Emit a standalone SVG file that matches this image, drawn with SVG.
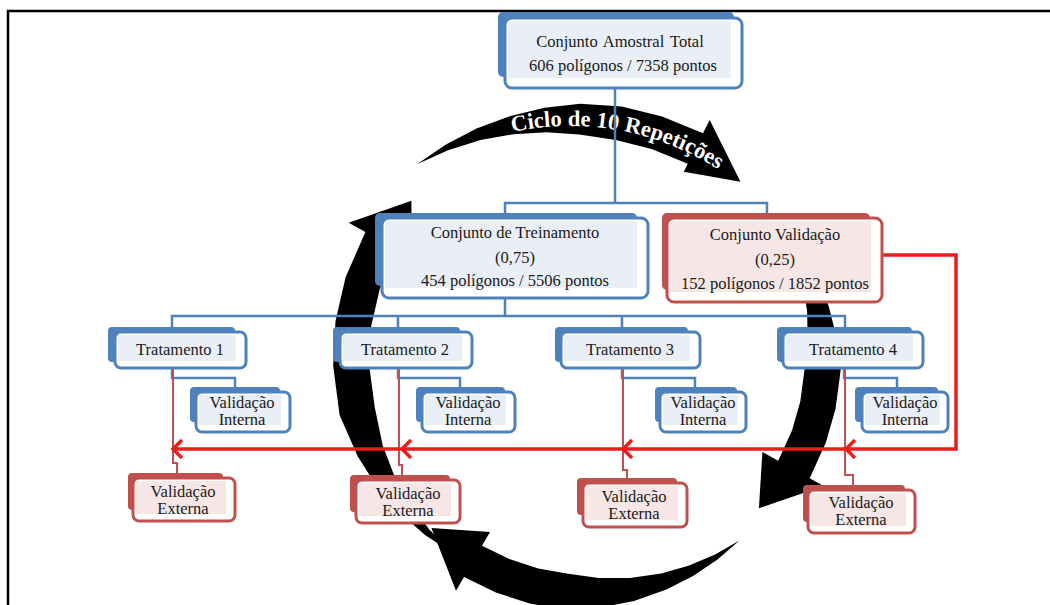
<svg xmlns="http://www.w3.org/2000/svg" width="1050" height="605" viewBox="0 0 1050 605">
<defs>
<style>
.bb{fill:#4f81bd}
.bf{fill:#fff;stroke:#4f81bd;stroke-width:3}
.bi{fill:#e9eef7}
.rb{fill:#c0504d}
.rf{fill:#fff;stroke:#c0504d;stroke-width:3}
.ri{fill:#f6e6e6}
text{font-family:"Liberation Serif","Times New Roman",serif;fill:#1a1a1a;font-size:16.5px;text-anchor:middle}
.cyc{fill:#000}
.cl{fill:none;stroke:#4f81bd;stroke-width:2.5}
.rl{fill:none;stroke:#c0504d;stroke-width:2}
.big{fill:none;stroke:#ee1c1c;stroke-width:3.5}
</style>
<path id="cp" d="M 503.7 134.1 A 274 274 0 0 1 731.1 178.3"/>
</defs>
<rect width="1050" height="605" fill="#fff"/>
<path d="M8 605 V11 H1050" fill="none" stroke="#000" stroke-width="2.5"/>

<g id="cycle">
<path class="cyc" d="M 417,164.3 L 445.5,144.7 L 476.5,128.5 L 509.7,116.2 L 544.4,107.8 L 580.3,103.8 L 621.7,106.5 L 662.1,116.6 L 703.0,133.3 L 709.7,119.9 L 740.5,181.7 L 683.8,171.8 L 687.8,163.7 L 651.6,148.9 L 615.8,140.0 L 579.3,134.6 L 546.6,132.3 L 513.5,134.2 L 480.5,140.1 L 448.1,150.2 Z"/>
<path class="cyc" d="M 778.7,220.6 L 799.1,246.3 L 816.0,275.1 L 828.8,306.5 L 837.2,339.8 L 840.7,370.1 L 835.5,409.0 L 825.9,442.5 L 809.7,478.2 L 823.6,486.0 L 758.9,508.2 L 762.4,452.0 L 778.2,460.7 L 792.1,430.2 L 800.3,401.5 L 804.7,368.2 L 807.7,341.8 L 807.1,311.1 L 802.1,280.2 L 792.6,249.8 Z"/>
<path class="cyc" d="M 739.5,540.4 L 717.5,559.5 L 693.1,576.0 L 666.5,589.5 L 634.0,600.9 L 599.8,607.7 L 564.5,609.6 L 529.6,603.5 L 495.9,592.5 L 464.0,577.0 L 456,590.8 L 431.4,528.1 L 490,531.9 L 482.0,545.8 L 509.3,559.1 L 538.3,568.5 L 568.2,573.8 L 598.7,578.0 L 629.9,577.9 L 661.3,573.5 L 688.4,565.8 L 714.6,554.8 Z"/>
<path class="cyc" d="M 453.3,553.6 L 425.0,535.1 L 399.2,512.3 L 376.4,485.9 L 357.5,456.1 L 339.6,415.1 L 333.2,366.0 L 335.5,321.1 L 345.6,277.3 L 365.4,231.9 L 348.7,222.7 L 411.4,200.8 L 411.7,257.6 L 396.8,249.4 L 379.9,288.4 L 371.2,326.1 L 369.1,364.7 L 374.7,407.0 L 382.7,445.4 L 394.1,475.3 L 409.8,503.7 L 429.7,530.0 Z"/>
<text style="fill:#fff;font-weight:bold;font-size:22.5px;text-anchor:start"><textPath href="#cp" startOffset="9">Ciclo de 10 Repetições</textPath></text>
</g>

<g id="connectors">
<path class="cl" d="M615 88 V203 M505 213 V203 H767 V213 M505 298 V316 M172 327 V316 H845 V327 M398 316 V327 M622 316 V327 M172 368 V378 H235 V387 M398 368 V378 H460 V387 M622 368 V378 H695 V387 M844 368 V378 H897 V387"/>
<path class="rl" d="M173 368 V463 H177 V473 M399 368 V465 H402 V475 M623 368 V470 H627 V478 M845 368 V475 H853 V485"/>
<path class="big" d="M882 255 H956 V449 H173 M182 440 L173 449 L182 458 M411 440 L402 449 L411 458 M632 440 L623 449 L632 458 M855 440 L846 449 L855 458"/>
</g>

<g id="amostral">
<rect class="bb" x="498" y="12" width="236" height="65" rx="5"/>
<rect class="bf" x="505" y="18" width="237" height="70" rx="7"/>
<rect class="bi" x="508" y="21" width="223" height="57"/>
<text x="620" y="47" font-size="17.5" word-spacing="2">Conjunto Amostral Total</text>
<text x="623" y="71" font-size="17">606 polígonos / 7358 pontos</text>
</g>
<g id="treinamento">
<rect class="bb" x="375" y="213" width="262" height="73" rx="5"/>
<rect class="bf" x="382" y="218" width="266" height="80" rx="7"/>
<rect class="bi" x="385" y="221" width="252" height="67"/>
<text x="515" y="238">Conjunto de Treinamento</text>
<text x="515" y="263">(0,75)</text>
<text x="515" y="286">454 polígonos / 5506 pontos</text>
</g>
<g id="validacao">
<rect class="rb" x="662" y="213" width="208" height="77" rx="5"/>
<rect class="rf" x="667" y="218" width="215" height="84" rx="7"/>
<rect class="ri" x="670" y="221" width="201" height="71"/>
<text x="775" y="240">Conjunto Validação</text>
<text x="775" y="265">(0,25)</text>
<text x="775" y="289">152 polígonos / 1852 pontos</text>
</g>

<g id="t1"><rect class="bb" x="108" y="327" width="127" height="35" rx="4"/><rect class="bf" x="115" y="332" width="131" height="36" rx="6"/><rect class="bi" x="118" y="335" width="118" height="26"/><text x="180" y="355">Tratamento 1</text></g>
<g id="t2"><rect class="bb" x="333" y="327" width="127" height="35" rx="4"/><rect class="bf" x="340" y="332" width="132" height="36" rx="6"/><rect class="bi" x="343" y="335" width="119" height="26"/><text x="405" y="355">Tratamento 2</text></g>
<g id="t3"><rect class="bb" x="555" y="327" width="133" height="35" rx="4"/><rect class="bf" x="561" y="332" width="139" height="36" rx="6"/><rect class="bi" x="564" y="335" width="126" height="26"/><text x="630" y="355">Tratamento 3</text></g>
<g id="t4"><rect class="bb" x="777" y="327" width="135" height="35" rx="4"/><rect class="bf" x="783" y="332" width="140" height="36" rx="6"/><rect class="bi" x="786" y="335" width="127" height="26"/><text x="853" y="355">Tratamento 4</text></g>

<g id="vi1"><rect class="bb" x="190" y="387" width="90" height="35" rx="4"/><rect class="bf" x="196" y="392" width="94" height="40" rx="6"/><rect class="bi" x="199" y="395" width="82" height="30"/><text x="242" y="408">Validação</text><text x="242" y="425">Interna</text></g>
<g id="vi2"><rect class="bb" x="416" y="387" width="89" height="35" rx="4"/><rect class="bf" x="422" y="392" width="93" height="40" rx="6"/><rect class="bi" x="425" y="395" width="81" height="30"/><text x="468" y="408">Validação</text><text x="468" y="425">Interna</text></g>
<g id="vi3"><rect class="bb" x="655" y="387" width="82" height="35" rx="4"/><rect class="bf" x="660" y="392" width="86" height="40" rx="6"/><rect class="bi" x="663" y="395" width="75" height="30"/><text x="703" y="408">Validação</text><text x="703" y="425">Interna</text></g>
<g id="vi4"><rect class="bb" x="855" y="387" width="83" height="35" rx="4"/><rect class="bf" x="862" y="392" width="86" height="40" rx="6"/><rect class="bi" x="865" y="395" width="75" height="30"/><text x="905" y="408">Validação</text><text x="905" y="425">Interna</text></g>

<g id="ve1"><rect class="rb" x="128" y="473" width="95" height="37" rx="4"/><rect class="rf" x="133" y="478" width="102" height="43" rx="6"/><rect class="ri" x="136" y="481" width="90" height="33"/><text x="183" y="497">Validação</text><text x="183" y="514">Externa</text></g>
<g id="ve2"><rect class="rb" x="350" y="475" width="100" height="37" rx="4"/><rect class="rf" x="356" y="480" width="104" height="43" rx="6"/><rect class="ri" x="359" y="483" width="92" height="33"/><text x="408" y="499">Validação</text><text x="408" y="516">Externa</text></g>
<g id="ve3"><rect class="rb" x="577" y="478" width="100" height="37" rx="4"/><rect class="rf" x="583" y="483" width="104" height="44" rx="6"/><rect class="ri" x="586" y="486" width="92" height="34"/><text x="634" y="502">Validação</text><text x="634" y="519">Externa</text></g>
<g id="ve4"><rect class="rb" x="803" y="485" width="102" height="37" rx="4"/><rect class="rf" x="808" y="490" width="107" height="43" rx="6"/><rect class="ri" x="811" y="493" width="95" height="33"/><text x="861" y="508">Validação</text><text x="861" y="525">Externa</text></g>
</svg>
